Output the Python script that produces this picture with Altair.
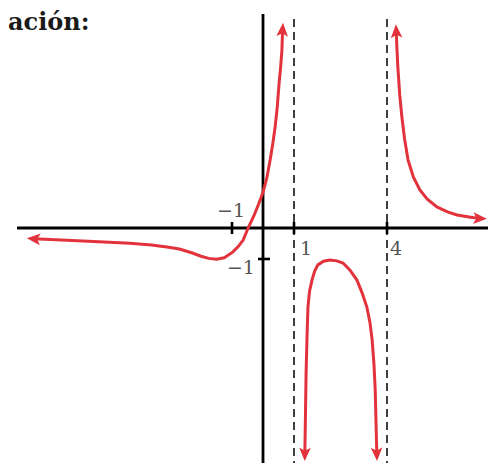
import altair as alt
import pandas as pd

# ---- data ----
title_text = "ación:"

b1_x = [-7.4, -6.5, -5.3, -4.3, -3.6, -3.1, -2.7, -2.3, -2.0, -1.75, -1.5, -1.25, -0.97, -0.8,
        -0.64, -0.48, -0.3, -0.15, 0.0, 0.12, 0.23, 0.32, 0.39, 0.46, 0.52, 0.57, 0.61, 0.63]
b1_y = [-0.35, -0.39, -0.44, -0.49, -0.55, -0.61, -0.68, -0.8, -0.91, -0.98, -1.01, -0.96, -0.77, -0.6,
        -0.39, 0.0, 0.38, 0.75, 1.15, 1.6, 2.19, 2.75, 3.26, 3.9, 4.68, 5.2, 5.74, 6.35]

b2_x = [1.35, 1.37, 1.39, 1.42, 1.45, 1.5, 1.58, 1.67, 1.77, 1.95, 2.16, 2.38, 2.58, 2.8, 3.03,
        3.2, 3.35, 3.45, 3.52, 3.58, 3.62, 3.67]
b2_y = [-7.25, -6.0, -4.68, -3.5, -2.55, -2.05, -1.68, -1.38, -1.19, -1.07, -1.03, -1.06, -1.13,
        -1.35, -1.68, -2.1, -2.55, -3.05, -3.61, -4.4, -5.23, -7.25]

b3_x = [4.3, 4.32, 4.35, 4.41, 4.48, 4.57, 4.68, 4.85, 5.06, 5.3, 5.61, 5.95, 6.26, 6.7, 6.97]
b3_y = [6.3, 5.8, 5.19, 4.3, 3.58, 2.85, 2.19, 1.65, 1.23, 0.93, 0.68, 0.52, 0.42, 0.35, 0.31]

arrow_x = [-7.37, 0.63, 1.35, 3.67, 4.3, 6.97]
arrow_y = [-0.35, 6.37, -7.27, -7.27, 6.32, 0.31]
arrow_angle = [275, 4, 181, 178, 357, 93]

asymptotes = [1, 4]
x_ticks = [-1, 1, 4]
y_ticks = [-1]

label_text = ["\u22121", "\u22121", "1", "4"]
label_x = [-1.03, -0.26, 1.19, 4.1]
label_y = [0.355, -1.48, -0.87, -0.87]
label_align = ["center", "right", "left", "left"]

# ---- layout / style ----
W, H = 480, 455
X_DOM = [-8.226, 7.258]
Y_DOM = [-7.581, 7.097]
RED = "#e2333c"
ARROW = "M0,-1L0.75,0.75L0,0.35L-0.75,0.75Z"

xs = alt.Scale(domain=X_DOM, nice=False, zero=False)
ys = alt.Scale(domain=Y_DOM, nice=False, zero=False)
X = lambda f: alt.X(f, type="quantitative", scale=xs, axis=None)
Y = lambda f: alt.Y(f, type="quantitative", scale=ys, axis=None)

rows = []
for b, (bx, by) in enumerate([(b1_x, b1_y), (b2_x, b2_y), (b3_x, b3_y)]):
    for i, (x, y) in enumerate(zip(bx, by)):
        rows.append({"x": x, "y": y, "branch": b, "i": i})
curves = pd.DataFrame(rows)

axes_df = pd.DataFrame({"x1": [-7.935, 0.0], "x2": [X_DOM[1], 0.0],
                        "y1": [0.0, 6.9], "y2": [0.0, Y_DOM[0]]})
asym_df = pd.DataFrame({"x": asymptotes})
xt_df = pd.DataFrame({"x": x_ticks})
yt_df = pd.DataFrame({"y": y_ticks})
lab_df = pd.DataFrame({"t": label_text, "x": label_x, "y": label_y, "al": label_align})
arr_df = pd.DataFrame({"x": arrow_x, "y": arrow_y, "a": arrow_angle})

axes = alt.Chart(axes_df).mark_rule(color="black", strokeWidth=2.8).encode(
    x=X("x1"), x2="x2", y=Y("y1"), y2="y2")

dashed = alt.Chart(asym_df).mark_rule(color="#111", strokeWidth=1.6, strokeDash=[8, 5]).encode(
    x=X("x"), y=alt.value(11), y2=alt.value(H))

xticks = alt.Chart(xt_df).mark_rule(color="black", strokeWidth=2.6).encode(
    x=X("x"), y=alt.value(214), y2=alt.value(226))
yticks = alt.Chart(yt_df).mark_rule(color="black", strokeWidth=2.6).encode(
    y=Y("y"), x=alt.value(250), x2=alt.value(262))

lines = alt.Chart(curves).mark_line(color=RED, strokeWidth=3, strokeCap="round").encode(
    x=X("x"), y=Y("y"), detail="branch:N", order="i:Q")

arrows = alt.Chart(arr_df).mark_point(shape=ARROW, filled=True, color=RED, size=240,
                                      opacity=1, strokeWidth=0).encode(
    x=X("x"), y=Y("y"), angle=alt.Angle("a:Q", scale=None))

def lab(align):
    return alt.Chart(lab_df[lab_df["al"] == align]).mark_text(
        font="DejaVu Serif", fontSize=19, color="#555", align=align,
        baseline="alphabetic").encode(x=X("x"), y=Y("y"), text="t:N")

title = alt.Chart(pd.DataFrame({"t": [title_text]})).mark_text(
    font="DejaVu Serif", fontWeight="bold", fontSize=24, color="#1a1a1a",
    align="left", baseline="alphabetic").encode(x=alt.value(0), y=alt.value(22), text="t:N")

chart = alt.layer(axes, dashed, xticks, yticks, lines, arrows,
                  lab("center"), lab("right"), lab("left"), title).properties(
    width=W, height=H, padding=0, autosize=alt.AutoSizeParams(type="none")
).configure_view(stroke=None)

chart.save("out.html", embed_options={"renderer": "svg", "actions": False})
